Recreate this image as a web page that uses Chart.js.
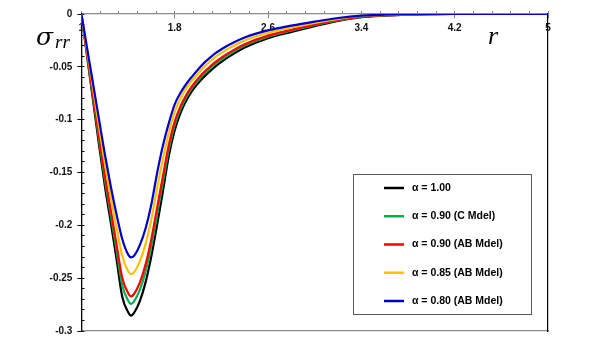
<!DOCTYPE html>
<html lang="en">
<head>
<meta charset="UTF-8">
<title>Radial stress chart</title>
<script src="https://cdn.jsdelivr.net/npm/chart.js"></script>
<style>
  body { margin: 0; background: #fff; }
  #wrap { width: 592px; height: 349px; }
</style>
</head>
<body>
<div id="wrap"><canvas id="stressChart" width="592" height="349"></canvas></div>
<script>
// radial position r
var rValues = [1, 1.05, 1.1, 1.15, 1.2, 1.25, 1.3, 1.35, 1.4, 1.425, 1.45, 1.5, 1.55, 1.6, 1.65, 1.7, 1.75, 1.8,
               1.85, 1.9, 1.95, 2.0, 2.05, 2.1, 2.15, 2.2, 2.3, 2.4,
               2.6, 2.8, 3.0, 3.2, 3.4, 3.6, 3.8, 4.0, 4.2, 5.0];

// sigma_rr for each alpha
var alpha100 = [0, -0.041, -0.082, -0.123, -0.162, -0.196, -0.231, -0.2675, -0.282, -0.2854, -0.283, -0.272, -0.254, -0.229, -0.199, -0.167, -0.134, -0.110,
                -0.0935, -0.0815, -0.0725, -0.0655, -0.0595, -0.0543, -0.0495, -0.0453, -0.038, -0.0318,
                -0.023, -0.017, -0.0115, -0.0065, -0.003, -0.0015, -0.0006, -0.0002, 0, 0];
var alpha090C = [0, -0.0394, -0.0788, -0.1182, -0.156, -0.1892, -0.2226, -0.2566, -0.2711, -0.2744, -0.2722, -0.2614, -0.2438, -0.2192, -0.1892, -0.1584, -0.1278, -0.1051,
                 -0.0897, -0.0784, -0.0698, -0.0629, -0.0569, -0.0517, -0.047, -0.0429, -0.0358, -0.0299,
                 -0.0215, -0.0158, -0.0106, -0.006, -0.0027, -0.0013, -0.0005, -0.0002, 0, 0];
var alpha090AB = [0, -0.0384, -0.0767, -0.1151, -0.1521, -0.1848, -0.2171, -0.2495, -0.264, -0.2672, -0.2652, -0.2545, -0.2372, -0.2128, -0.1828, -0.1528, -0.1238, -0.1019,
                  -0.0872, -0.0764, -0.068, -0.0612, -0.0552, -0.0501, -0.0454, -0.0413, -0.0344, -0.0286,
                  -0.0205, -0.015, -0.0101, -0.0056, -0.0025, -0.0012, -0.0005, -0.0001, 0, 0];
var alpha085AB = [0, -0.0353, -0.0706, -0.106, -0.1407, -0.1719, -0.2012, -0.2288, -0.2433, -0.2463, -0.2447, -0.2344, -0.2178, -0.1942, -0.1642, -0.1365, -0.112, -0.0926,
                  -0.080, -0.070, -0.0629, -0.0563, -0.0503, -0.0452, -0.0406, -0.0368, -0.0303, -0.025,
                  -0.0177, -0.0127, -0.0084, -0.0046, -0.0019, -0.0009, -0.0003, 0, 0, 0];
var alpha080AB = [0, -0.033, -0.066, -0.099, -0.132, -0.162, -0.189, -0.213, -0.2275, -0.2303, -0.229, -0.219, -0.203, -0.180, -0.150, -0.124, -0.103, -0.0855,
                  -0.0745, -0.066, -0.059, -0.0525, -0.0465, -0.0415, -0.037, -0.0333, -0.0272, -0.0222,
                  -0.0155, -0.011, -0.0072, -0.0038, -0.0016, -0.0007, -0.0002, 0, 0, 0];

var seriesLabels = ['α = 1.00', 'α = 0.90 (C Mdel)', 'α = 0.90 (AB Mdel)', 'α = 0.85 (AB Mdel)', 'α = 0.80 (AB Mdel)'];
var seriesColors = ['#000000', '#00b050', '#ff0000', '#ffc000', '#0000cc'];

// tick labels
var xTickValues = [1, 1.8, 2.6, 3.4, 4.2, 5];
var yTickValues = [0, -0.05, -0.1, -0.15, -0.2, -0.25, -0.3];

function toPoints(values) {
    return rValues.map(function (r, i) { return { x: r, y: values[i] }; });
}

var allSeries = [alpha100, alpha090C, alpha090AB, alpha085AB, alpha080AB];
var datasets = allSeries.map(function (values, i) {
    return {
        label: seriesLabels[i],
        data: toPoints(values),
        borderColor: seriesColors[i],
        backgroundColor: seriesColors[i],
        borderWidth: 2.2,
        pointRadius: 0,
        cubicInterpolationMode: 'monotone',
        fill: false,
        order: allSeries.length - i
    };
});

var tickFont = { family: 'Liberation Sans', size: 10, weight: 'bold' };

// axis symbols and the boxed legend
var extras = {
    id: 'extras',
    afterDraw: function (chart) {
        var ctx = chart.ctx;
        ctx.save();
        ctx.fillStyle = '#000';
        ctx.textBaseline = 'alphabetic';
        ctx.textAlign = 'left';
        ctx.font = 'italic 25px "DejaVu Serif"';
        ctx.fillText('σ', 36, 45);
        ctx.font = 'italic 19px "Liberation Serif"';
        ctx.fillText('rr', 55, 48);
        ctx.font = 'italic 26px "Liberation Serif"';
        ctx.fillText('r', 488, 44);

        // legend box
        ctx.fillStyle = '#fff';
        ctx.fillRect(353, 174, 179, 141);
        ctx.strokeStyle = '#595959';
        ctx.lineWidth = 1;
        ctx.strokeRect(353.5, 174.5, 178, 140);
        ctx.font = 'bold 10.5px "Liberation Sans"';
        ctx.textBaseline = 'middle';
        chart.data.datasets.forEach(function (ds, i) {
            var y = 188 + i * 28.25;
            ctx.strokeStyle = ds.borderColor;
            ctx.lineWidth = 2.5;
            ctx.beginPath();
            ctx.moveTo(384, y);
            ctx.lineTo(404, y);
            ctx.stroke();
            ctx.fillStyle = '#000';
            ctx.fillText(ds.label, 412, y);
        });
        ctx.restore();
    }
};

var myChart = new Chart(document.getElementById('stressChart'), {
    type: 'line',
    data: { datasets: datasets },
    options: {
        responsive: false,
        animation: false,
        layout: { padding: { left: 41, right: 44, top: 14, bottom: 18 } },
        plugins: { legend: { display: false }, tooltip: { enabled: false } },
        scales: {
            x: {
                type: 'linear', axis: 'x', position: { y: 0 }, min: 1, max: 5,
                afterBuildTicks: function (scale) {
                    scale.ticks = xTickValues.map(function (v) { return { value: v }; });
                },
                grid: { drawOnChartArea: false, tickLength: 4, color: '#7f7f7f' },
                border: { color: '#8c8c8c', width: 1.2 },
                ticks: {
                    padding: 4, maxRotation: 0, autoSkip: false, color: '#111', font: tickFont,
                    callback: function (v) { return String(v); }
                }
            },
            xMinor: {
                type: 'linear', axis: 'x', position: { y: 0 }, min: 1, max: 5,
                ticks: { display: false, stepSize: 0.16, autoSkip: false },
                grid: { drawOnChartArea: false, tickLength: -3, color: '#7f7f7f' },
                border: { display: false }
            },
            xBottom: {
                type: 'linear', axis: 'x', position: { y: -0.3 }, min: 1, max: 5,
                ticks: { display: false },
                grid: { drawOnChartArea: false, drawTicks: false },
                border: { color: '#8c8c8c', width: 1.2 }
            },
            y: {
                type: 'linear', position: 'left', min: -0.3, max: 0,
                afterBuildTicks: function (scale) {
                    scale.ticks = yTickValues.map(function (v) { return { value: v }; });
                },
                afterFit: function (scale) { scale.width = 40.4; },
                grid: { drawOnChartArea: false, tickLength: 4, color: '#000' },
                border: { color: '#000', width: 1.3 },
                ticks: {
                    padding: 5, color: '#111', font: tickFont,
                    callback: function (v) { return String(v); }
                }
            },
            yMinor: {
                type: 'linear', axis: 'y', position: { x: 1 }, min: -0.3, max: 0,
                ticks: { display: false, stepSize: 0.01, autoSkip: false },
                grid: { drawOnChartArea: false, tickLength: -3.5, color: '#000' },
                border: { display: false }
            },
            yRight: {
                type: 'linear', axis: 'y', position: { x: 5 }, min: -0.3, max: 0,
                ticks: { display: false },
                grid: { drawOnChartArea: false, drawTicks: false },
                border: { color: '#000', width: 1.2 }
            }
        }
    },
    plugins: [extras]
});
</script>
</body>
</html>
